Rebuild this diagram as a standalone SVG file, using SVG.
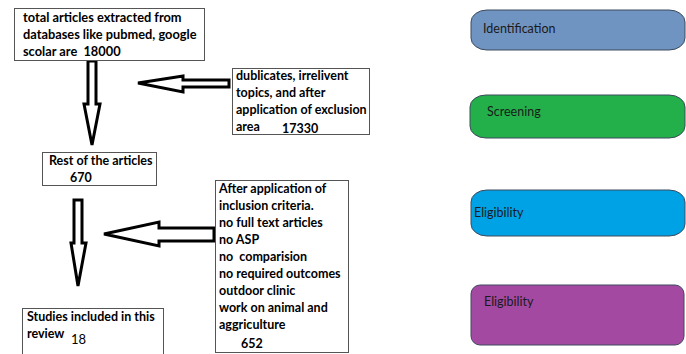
<svg xmlns="http://www.w3.org/2000/svg" width="686" height="354" viewBox="0 0 686 354">
<style>
.box{fill:#fff;stroke:#555;stroke-width:1}
.t{font-family:Lato,"Liberation Sans",sans-serif;font-weight:bold;font-size:12.5px;fill:#000}
.n{font-family:Lato,"Liberation Sans",sans-serif;font-size:13px;fill:#000}
.arr{fill:#fff;stroke:#000;stroke-width:3;stroke-linejoin:miter}
.pt{font-family:Lato,"Liberation Sans",sans-serif;font-size:12.5px;fill:#1a1a1a}
.pill{stroke:#3d4a5c;stroke-width:1}
</style>
<rect width="686" height="354" fill="#fff"/>
<g id="connectors">
<polygon class="arr" points="88,61 96,61 96,104 100,104 92,145 84,104 88,104"/>
<polygon class="arr" points="229,80 229,87 183,87 183,92 138,83 183,76 183,80"/>
<polygon class="arr" points="74,200 82,200 82,243 86,243 78,286 71,243 74,243"/>
<polygon class="arr" points="214,228 214,241 159,241 159,246 104,234 159,222 159,228"/>
</g>
<g id="n1">
<rect class="box" x="14.5" y="8.5" width="190" height="52"/>
<text class="t" x="23" y="22" style="font-size:12.8px">total articles extracted from</text>
<text class="t" x="23" y="39" style="font-size:12.8px">databases like pubmed, google</text>
<text class="t" x="23" y="56" style="font-size:12.8px" xml:space="preserve">scolar are  18000</text>
</g>
<g id="n2">
<rect class="box" x="232.5" y="68.5" width="137" height="66"/>
<text class="t" x="236" y="80">dublicates, irrelivent</text>
<text class="t" x="236" y="97">topics, and after</text>
<text class="t" x="236" y="114">application of exclusion</text>
<text class="t" x="236" y="131">area</text>
<text class="t" x="282" y="133">17330</text>
</g>
<g id="n3">
<rect class="box" x="42.5" y="152.5" width="114" height="33"/>
<text class="t" x="49" y="165">Rest of the articles</text>
<text class="t" x="70" y="182">670</text>
</g>
<g id="n4">
<rect class="box" x="215.5" y="180.5" width="133" height="172"/>
<text class="t" x="219" y="193">After application of</text>
<text class="t" x="219" y="210">inclusion criteria.</text>
<text class="t" x="219" y="227">no full text articles</text>
<text class="t" x="219" y="244">no ASP</text>
<text class="t" x="219" y="261" xml:space="preserve">no  comparision</text>
<text class="t" x="219" y="278">no required outcomes</text>
<text class="t" x="219" y="295">outdoor clinic</text>
<text class="t" x="219" y="312">work on animal and</text>
<text class="t" x="219" y="329">aggriculture</text>
<text class="t" x="241" y="348">652</text>
</g>
<g id="n5">
<rect class="box" x="22.5" y="308.5" width="141" height="50"/>
<text class="t" x="27" y="321">Studies included in this</text>
<text class="t" x="27" y="338">review</text>
<text class="n" x="71" y="344">18</text>
</g>
<g id="p1">
<rect class="pill" x="471" y="10" width="214" height="40" rx="16" ry="12" fill="#7094c2"/>
<text class="pt" x="483" y="33">Identification</text>
</g>
<g id="p2">
<rect class="pill" x="470" y="95" width="215" height="43" rx="16" ry="12" fill="#23b04b"/>
<text class="pt" x="487" y="116">Screening</text>
</g>
<g id="p3">
<rect class="pill" x="471" y="190" width="214" height="46" rx="16" ry="12" fill="#00a2e6"/>
<text class="pt" x="474" y="217">Eligibility</text>
</g>
<g id="p4">
<rect class="pill" x="471" y="285" width="213" height="60" rx="9" ry="9" fill="#a349a2"/>
<text class="pt" x="484" y="306">Eligibility</text>
</g>
</svg>
